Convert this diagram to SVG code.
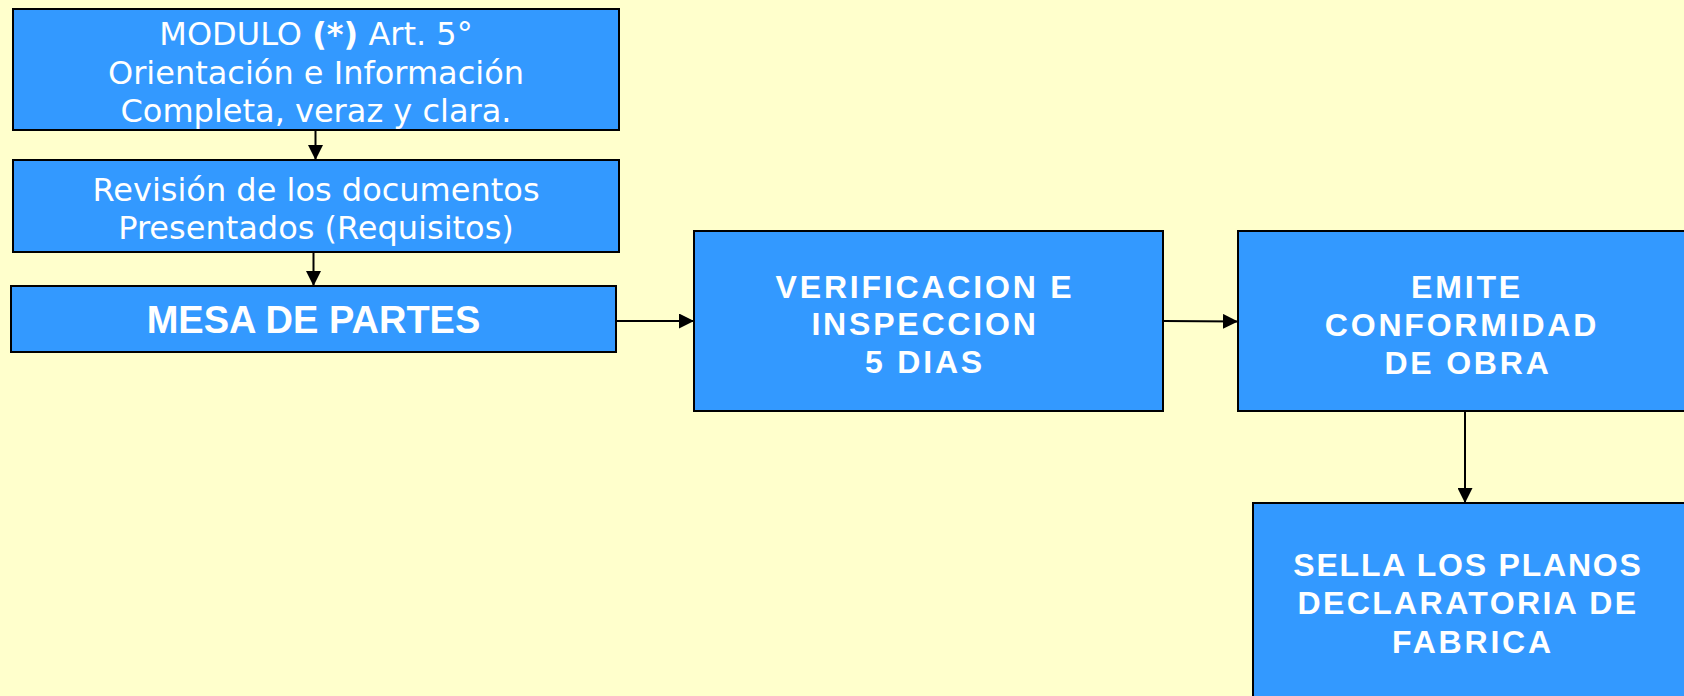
<svg xmlns="http://www.w3.org/2000/svg" width="1684" height="696" viewBox="0 0 1684 696">
<style>
.box{fill:#3399FF;stroke:#000;stroke-width:2}
.t{font-family:"DejaVu Sans",sans-serif;font-size:32px;fill:#fff;text-anchor:middle}
.b{font-family:"Liberation Sans",Arial,sans-serif;font-weight:bold;font-size:32px;fill:#fff;text-anchor:middle;letter-spacing:2.8px}
.conn{stroke:#000;stroke-width:2;fill:none;marker-end:url(#ah)}
</style>
<defs>
<marker id="ah" markerUnits="userSpaceOnUse" markerWidth="15" markerHeight="15" refX="15" refY="7.5" orient="auto">
<path d="M0,0 L15,7.5 L0,15 z" fill="#000"/>
</marker>
</defs>
<rect width="1684" height="696" fill="#FFFFCC"/>
<g id="connectors">
<line class="conn" x1="315.5" y1="130" x2="315.5" y2="160"/>
<line class="conn" x1="313.5" y1="252" x2="313.5" y2="286"/>
<line class="conn" x1="617" y1="321" x2="694" y2="321"/>
<line class="conn" x1="1164" y1="321" x2="1238" y2="321.5"/>
<line class="conn" x1="1465" y1="411" x2="1465" y2="503"/>
</g>
<g id="modulo">
<rect class="box" x="13" y="9" width="606" height="121"/>
<text class="t" x="316" y="45">MODULO <tspan font-weight="bold">(*)</tspan> Art. 5°</text>
<text class="t" x="316" y="84">Orientación e Información</text>
<text class="t" x="316" y="122">Completa, veraz y clara.</text>
</g>
<g id="revision">
<rect class="box" x="13" y="160" width="606" height="92"/>
<text class="t" x="316" y="201">Revisión de los documentos</text>
<text class="t" x="316" y="239">Presentados (Requisitos)</text>
</g>
<g id="mesa">
<rect class="box" x="11" y="286" width="605" height="66"/>
<text class="b" x="313.5" y="333" style="font-size:38px;letter-spacing:0">MESA DE PARTES</text>
</g>
<g id="verificacion">
<rect class="box" x="694" y="231" width="469" height="180"/>
<text class="b" x="925" y="298">VERIFICACION E</text>
<text class="b" x="925" y="335">INSPECCION</text>
<text class="b" x="925" y="373">5 DIAS</text>
</g>
<g id="emite">
<rect class="box" x="1238" y="231" width="460" height="180"/>
<text class="b" x="1467" y="298">EMITE</text>
<text class="b" x="1462" y="336">CONFORMIDAD</text>
<text class="b" x="1468" y="374">DE OBRA</text>
</g>
<g id="sella">
<rect class="box" x="1253" y="503" width="440" height="200"/>
<text class="b" x="1468" y="576" style="letter-spacing:1.8px">SELLA LOS PLANOS</text>
<text class="b" x="1468" y="614" style="letter-spacing:2.4px">DECLARATORIA DE</text>
<text class="b" x="1473" y="653">FABRICA</text>
</g>
</svg>
